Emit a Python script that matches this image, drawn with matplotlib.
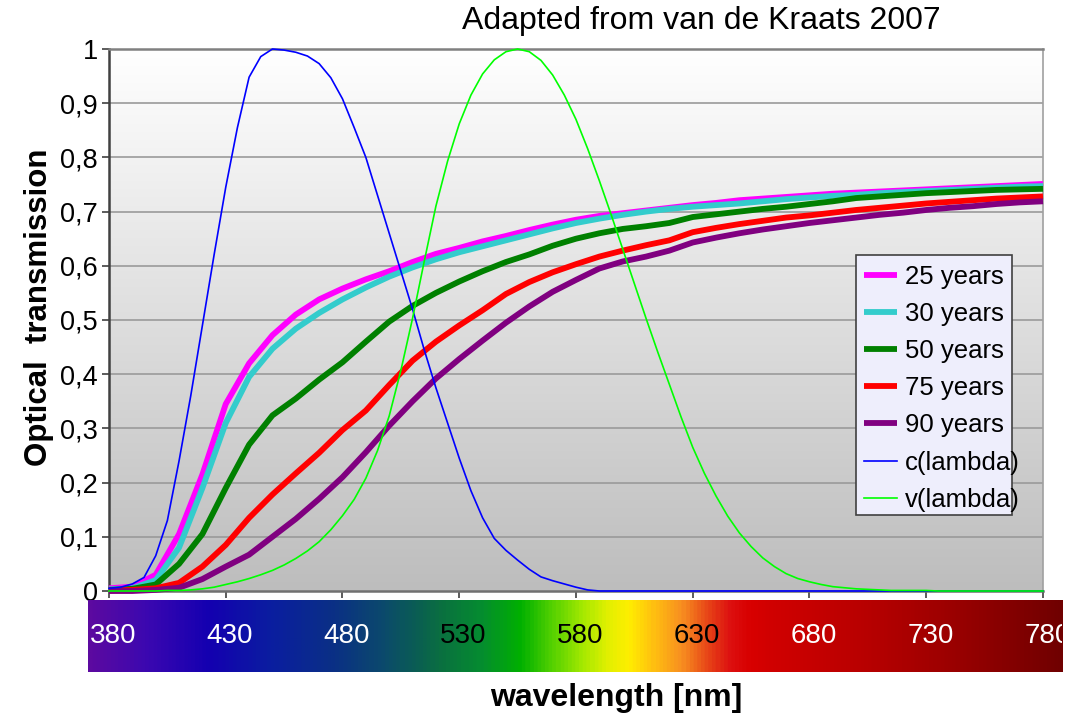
import numpy as np
import matplotlib
matplotlib.use('Agg')
import matplotlib.pyplot as plt
from matplotlib.colors import LinearSegmentedColormap
from matplotlib.patches import Rectangle

plt.rcParams['font.family'] = ['Liberation Sans', 'DejaVu Sans']

# wavelengths (nm)
wl10 = np.arange(380, 781, 10)
wl5 = np.arange(380, 781, 5)

age25 = [0.005, 0.008, 0.03, 0.105, 0.215, 0.345, 0.42, 0.472, 0.51, 0.538, 0.558, 0.575, 0.59, 0.607,
         0.622, 0.633, 0.645, 0.655, 0.666, 0.676, 0.685, 0.692, 0.697, 0.702, 0.707, 0.712, 0.716,
         0.721, 0.724, 0.727, 0.73, 0.733, 0.735, 0.737, 0.739, 0.741, 0.743, 0.745, 0.747, 0.749, 0.751]
age30 = [0.003, 0.005, 0.02, 0.08, 0.19, 0.31, 0.395, 0.447, 0.484, 0.513, 0.538, 0.56, 0.58, 0.597,
         0.612, 0.625, 0.636, 0.647, 0.658, 0.669, 0.679, 0.687, 0.694, 0.700, 0.705, 0.709, 0.712,
         0.715, 0.719, 0.723, 0.726, 0.729, 0.731, 0.734, 0.736, 0.738, 0.740, 0.742, 0.744, 0.746, 0.747]
age50 = [0.002, 0.004, 0.012, 0.05, 0.105, 0.19, 0.27, 0.324, 0.355, 0.39, 0.422, 0.46, 0.497, 0.526,
         0.55, 0.571, 0.59, 0.607, 0.621, 0.637, 0.65, 0.66, 0.668, 0.673, 0.679, 0.69, 0.695,
         0.70, 0.705, 0.709, 0.714, 0.719, 0.725, 0.728, 0.731, 0.734, 0.736, 0.738, 0.740, 0.741, 0.742]
age75 = [0.001, 0.002, 0.005, 0.015, 0.045, 0.085, 0.135, 0.178, 0.217, 0.255, 0.297, 0.333, 0.38, 0.425,
         0.46, 0.49, 0.518, 0.548, 0.57, 0.588, 0.603, 0.617, 0.628, 0.638, 0.647, 0.662, 0.67,
         0.677, 0.683, 0.689, 0.693, 0.698, 0.703, 0.707, 0.711, 0.715, 0.718, 0.721, 0.724, 0.726, 0.728]
age90 = [0.0, 0.0, 0.002, 0.006, 0.022, 0.045, 0.067, 0.1, 0.133, 0.17, 0.21, 0.256, 0.305, 0.35,
         0.392, 0.428, 0.462, 0.495, 0.525, 0.552, 0.574, 0.595, 0.608, 0.617, 0.628, 0.643, 0.652,
         0.66, 0.667, 0.673, 0.679, 0.684, 0.689, 0.694, 0.698, 0.703, 0.707, 0.71, 0.714, 0.717, 0.719]

c_lambda = [0.005, 0.007, 0.013, 0.025, 0.065, 0.13, 0.24, 0.36, 0.49, 0.62, 0.745, 0.855, 0.948, 0.986,
            1.0, 0.998, 0.994, 0.987, 0.973, 0.947, 0.908, 0.855, 0.80, 0.73, 0.66, 0.59, 0.52, 0.445,
            0.375, 0.31, 0.245, 0.185, 0.135, 0.097, 0.075, 0.057, 0.04, 0.026, 0.019, 0.013, 0.007, 0.002] + [0.0] * 39
v_lambda = [0.0, 0.0, 0.0, 0.0, 0.0, 0.001, 0.001, 0.002, 0.004, 0.007, 0.012, 0.017, 0.023, 0.030,
            0.038, 0.048, 0.060, 0.074, 0.091, 0.113, 0.139, 0.169, 0.208, 0.259, 0.323, 0.407, 0.503,
            0.608, 0.710, 0.793, 0.862, 0.915, 0.954, 0.980, 0.995, 1.000, 0.995, 0.979, 0.952, 0.915,
            0.870, 0.816, 0.757, 0.695, 0.631, 0.567, 0.503, 0.441, 0.381, 0.321, 0.265, 0.217, 0.175,
            0.138, 0.107, 0.082, 0.061, 0.045, 0.032, 0.023, 0.017, 0.012, 0.008, 0.006, 0.004, 0.003,
            0.002, 0.001, 0.001, 0.001, 0.001] + [0.0] * 10

labels = ['25 years', '30 years', '50 years', '75 years', '90 years', 'c(lambda)', 'v(lambda)']
colors = ['#ff00ff', '#33cccc', '#008000', '#ff0000', '#800080', '#0000ff', '#00ff00']

yticks = np.arange(0, 1.01, 0.1)
ytick_labels = ['0', '0,1', '0,2', '0,3', '0,4', '0,5', '0,6', '0,7', '0,8', '0,9', '1']
bar_ticks = [380, 430, 480, 530, 580, 630, 680, 730, 780]
bar_tick_colors = ['white', 'white', 'white', 'black', 'black', 'black', 'white', 'white', 'white']

# spectrum bar colour stops (nm, colour)
spec_nm = [369, 393, 420, 447, 474, 495, 511, 520, 537, 554, 567, 580, 591, 600.5, 611, 623, 634,
           644, 653, 662, 702, 743, 786]
spec_col = ['#5c0aa0', '#3c08b0', '#1400b0', '#0a1ea0', '#0a3085', '#0c4a6c', '#0a6050', '#0a7040',
            '#058c30', '#00b000', '#50d000', '#a0e800', '#e0f000', '#ffee00', '#ffc010', '#f89020',
            '#e84818', '#dd1010', '#d80000', '#d00000', '#b80000', '#980000', '#700000']

W, H = 1066, 714
fig = plt.figure(figsize=(W / 100, H / 100), dpi=100)
ax = fig.add_axes([109 / W, 1 - 591 / H, 934 / W, 542 / H])

# grey gradient background
grad = np.linspace(0, 1, 256).reshape(-1, 1)
bg = LinearSegmentedColormap.from_list('bg', ['#bdbdbd', '#ffffff'])
ax.imshow(grad, extent=[380, 780, 0, 1], origin='lower', aspect='auto', cmap=bg, zorder=0)

for y in yticks[1:-1]:
    ax.axhline(y, color='#9a9a9a', lw=1.2, zorder=1)

series = [age25, age30, age50, age75, age90]
for vals, lab, col in zip(series, labels[:5], colors[:5]):
    ax.plot(wl10, vals, color=col, lw=4.2, label=lab, clip_on=False, zorder=3,
            solid_capstyle='butt')
ax.plot(wl5, c_lambda, color=colors[5], lw=1.2, label=labels[5], clip_on=False, zorder=4)
ax.plot(wl5, v_lambda, color=colors[6], lw=1.2, label=labels[6], clip_on=False, zorder=4)

ax.set_xlim(380, 780)
ax.set_ylim(0, 1)
ax.set_xticks(bar_ticks)
ax.set_xticklabels([])
ax.set_yticks(yticks)
ax.set_yticklabels(ytick_labels, fontsize=19.5)
ax.tick_params(axis='both', direction='out', length=5, width=1.2, color='#404040', pad=3)

ax.spines['left'].set_color('#404040')
ax.spines['left'].set_linewidth(1.8)
ax.spines['bottom'].set_color('#707070')
ax.spines['bottom'].set_linewidth(1.8)
ax.spines['top'].set_color('#808080')
ax.spines['top'].set_linewidth(1.8)
ax.spines['right'].set_color('#a0a0a0')
ax.spines['right'].set_linewidth(1.2)

# legend box (text runs past the right edge, as in the original)
x0, y0 = ax.transAxes.inverted().transform(fig.transFigure.transform((856 / W, 1 - 515 / H)))
x1, y1 = ax.transAxes.inverted().transform(fig.transFigure.transform((1012 / W, 1 - 255 / H)))
ax.add_patch(Rectangle((x0, y0), x1 - x0, y1 - y0, transform=ax.transAxes, facecolor='#eeeefc',
                       edgecolor='#404040', lw=1.2, zorder=5))
lx, ly = ax.transAxes.inverted().transform(fig.transFigure.transform((864 / W, 1 - 265 / H)))
leg = ax.legend(loc='upper left', bbox_to_anchor=(lx, ly), frameon=False, fontsize=18.5,
                borderpad=0, borderaxespad=0, handlelength=1.3, handletextpad=0.3, labelspacing=0.51)
leg.set_zorder(6)

fig.text(701 / W, 1 - 21 / H, 'Adapted from van de Kraats 2007', ha='center', va='center', fontsize=23)
fig.text(39 / W, 1 - 307 / H, 'Optical  transmission', ha='center', va='center', rotation=90,
         fontsize=22.5, fontweight='bold')
fig.text(616 / W, 1 - 698 / H, 'wavelength [nm]', ha='center', va='center', fontsize=23,
         fontweight='bold')

# spectrum strip under the axis
bax = fig.add_axes([87.5 / W, 1 - 672 / H, 974.5 / W, 72 / H])
spec_cmap = LinearSegmentedColormap.from_list(
    'spec', [((n - spec_nm[0]) / (spec_nm[-1] - spec_nm[0]), c) for n, c in zip(spec_nm, spec_col)])
strip = np.linspace(spec_nm[0], spec_nm[-1], 800).reshape(1, -1)
bax.imshow(strip, extent=[spec_nm[0], spec_nm[-1], 0, 1], aspect='auto', cmap=spec_cmap)
bax.set_xlim(369.1, 786.2)
bax.set_ylim(0, 1)
bax.axis('off')
for t, tc in zip(bar_ticks, bar_tick_colors):
    bax.text(t, 0.5, str(t), ha='center', va='center', color=tc, fontsize=20, clip_on=True)

fig.savefig('out.png', dpi=100)
